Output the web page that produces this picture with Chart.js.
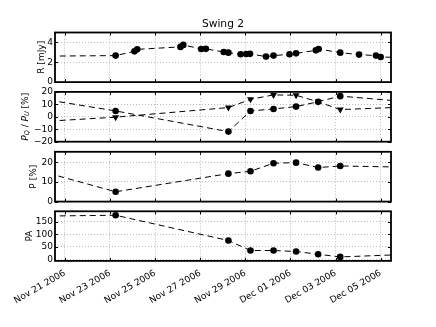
<!DOCTYPE html>
<html>
<head>
<meta charset="utf-8">
<script src="https://cdn.jsdelivr.net/npm/chart.js@4/dist/chart.umd.min.js"></script>
<style>
  body { margin: 0; background: #fff; }
  #wrap { position: relative; width: 436px; height: 327px; }
  #wrap canvas { position: absolute; left: 0; }
</style>
</head>
<body>
<div id="wrap">
  <canvas id="pR" width="436" height="87" style="top:0px"></canvas>
  <canvas id="pQU" width="436" height="60" style="top:87px"></canvas>
  <canvas id="pP" width="436" height="59" style="top:147px"></canvas>
  <canvas id="pPA" width="436" height="121" style="top:206px"></canvas>
</div>
<script>
// x axis (dates)
const xStart = '2006-11-20T13:30Z';
const xEnd = '2006-12-05T11:00Z';
const xTickDates = ['2006-11-21T00:00Z', '2006-11-23T00:00Z', '2006-11-25T00:00Z', '2006-11-27T00:00Z',
                    '2006-11-29T00:00Z', '2006-12-01T00:00Z', '2006-12-03T00:00Z', '2006-12-05T00:00Z'];
const xTickLabels = ['Nov 21 2006', 'Nov 23 2006', 'Nov 25 2006', 'Nov 27 2006',
                     'Nov 29 2006', 'Dec 01 2006', 'Dec 03 2006', 'Dec 05 2006'];

// flux density
const rDates = ['2006-11-19T00:00Z', '2006-11-23T06:00Z', '2006-11-24T02:00Z', '2006-11-24T05:00Z',
                '2006-11-26T03:00Z', '2006-11-26T06:00Z', '2006-11-27T01:00Z', '2006-11-27T06:00Z',
                '2006-11-28T01:00Z', '2006-11-28T06:00Z', '2006-11-28T19:00Z', '2006-11-29T01:00Z',
                '2006-11-29T05:00Z', '2006-11-29T22:00Z', '2006-11-30T06:00Z', '2006-11-30T23:00Z',
                '2006-12-01T06:00Z', '2006-12-02T03:00Z', '2006-12-02T06:00Z', '2006-12-03T05:00Z',
                '2006-12-04T01:00Z', '2006-12-04T19:00Z', '2006-12-05T00:00Z', '2006-12-06T12:00Z'];
const rValues = [2.6, 2.67, 3.1, 3.3, 3.55, 3.75, 3.33, 3.35, 3.03, 2.97, 2.8, 2.83,
                 2.85, 2.57, 2.67, 2.8, 2.9, 3.2, 3.33, 2.97, 2.77, 2.67, 2.53, 2.45];

// polarization
const polDates = ['2006-11-19T00:00Z', '2006-11-23T06:00Z', '2006-11-28T06:00Z', '2006-11-29T05:30Z',
                  '2006-11-30T06:00Z', '2006-12-01T06:00Z', '2006-12-02T05:30Z', '2006-12-03T05:00Z',
                  '2006-12-06T12:00Z'];
const pqValues = [17.2, 4.7, -11.9, 4.7, 6.3, 8.2, 12.1, 16.6, 11.6];
const puValues = [-4.9, -0.3, 7.4, 14.0, 17.6, 17.3, 12.0, 5.8, 8.1];
const pValues = [18.4, 5.0, 14.2, 15.4, 19.5, 19.8, 17.3, 18.1, 17.4];
const paValues = [172.4, 176.7, 75.8, 35.9, 36.0, 32.0, 21.0, 10.4, 21.5];

const rTicks = [0, 2, 4];
const quTicks = [-20, -10, 0, 10, 20];
const pTicks = [0, 10, 20];
const paTicks = [0, 50, 100, 150];

Chart.defaults.font.family = 'DejaVu Sans';
Chart.defaults.font.size = 9;
Chart.defaults.color = '#000';

const base = Date.parse('2006-11-21T00:00Z');
function toDay(s) { return (Date.parse(s) - base) / 86400000; }
const xTicks = xTickDates.map(toDay);

function series(dates, vals, tri) {
  return {
    data: dates.map((d, i) => ({ x: toDay(d), y: vals[i] })),
    borderColor: '#000',
    borderWidth: 1,
    borderDash: [6, 4],
    backgroundColor: '#000',
    pointBackgroundColor: '#000',
    pointBorderColor: '#000',
    pointBorderWidth: 0,
    pointStyle: tri ? 'triangle' : 'circle',
    pointRotation: tri ? 180 : 0,
    pointRadius: tri ? 4 : 3.3,
    tension: 0,
    fill: false,
    clip: 0
  };
}

// frame, inward tick marks and extra text
function extras(cfg) {
  return {
    id: 'extras',
    afterDraw(chart) {
      const ctx = chart.ctx, a = chart.chartArea;
      const xs = chart.scales.x, ys = chart.scales.y;
      ctx.save();
      ctx.strokeStyle = '#000';
      ctx.lineWidth = 1;
      xTicks.forEach(v => {
        const px = Math.round(xs.getPixelForValue(v)) + 0.5;
        ctx.beginPath();
        ctx.moveTo(px, a.bottom); ctx.lineTo(px, a.bottom - 3);
        ctx.moveTo(px, a.top); ctx.lineTo(px, a.top + 3);
        ctx.stroke();
      });
      cfg.yTicks.forEach(v => {
        const py = Math.round(ys.getPixelForValue(v)) + 0.5;
        ctx.beginPath();
        ctx.moveTo(a.left, py); ctx.lineTo(a.left + 3, py);
        ctx.moveTo(a.right, py); ctx.lineTo(a.right - 3, py);
        ctx.stroke();
      });
      ctx.lineWidth = 1.8;
      ctx.strokeRect(a.left, a.top, a.right - a.left, a.bottom - a.top);

      ctx.fillStyle = '#000';
      if (cfg.title) {
        ctx.font = '10.7px "DejaVu Sans"';
        ctx.textAlign = 'center';
        ctx.textBaseline = 'bottom';
        ctx.fillText(cfg.title, (a.left + a.right) / 2, a.top - 3);
      }
      if (cfg.mathLabel) {
        const parts = [['P', 'italic 9px "DejaVu Sans"', 0], ['Q', 'italic 6.5px "DejaVu Sans"', 2],
                       [' / ', '9px "DejaVu Sans"', 0], ['P', 'italic 9px "DejaVu Sans"', 0],
                       ['U', 'italic 6.5px "DejaVu Sans"', 2], [' [%]', '9px "DejaVu Sans"', 0]];
        ctx.translate(cfg.mathLabel, (a.top + a.bottom) / 2);
        ctx.rotate(-Math.PI / 2);
        ctx.textAlign = 'left';
        ctx.textBaseline = 'middle';
        let w = 0;
        parts.forEach(p => { ctx.font = p[1]; w += ctx.measureText(p[0]).width; });
        let x = -w / 2;
        parts.forEach(p => {
          ctx.font = p[1];
          ctx.fillText(p[0], x, p[2] + 0.5);
          x += ctx.measureText(p[0]).width;
        });
      }
      ctx.restore();
    }
  };
}

// cfg.top / cfg.bottom are page coordinates of the plot frame
function panel(id, cfg) {
  const canvas = document.getElementById(id);
  const cTop = parseFloat(canvas.style.top);
  const cBottom = cTop + canvas.height;
  new Chart(canvas, {
    type: 'line',
    data: { datasets: cfg.datasets },
    options: {
      responsive: false,
      animation: false,
      events: [],
      layout: { padding: { left: 0, right: 45, top: cfg.top - cTop, bottom: 0 } },
      plugins: { legend: { display: false }, tooltip: { enabled: false } },
      scales: {
        x: {
          type: 'linear',
          min: toDay(xStart),
          max: toDay(xEnd),
          afterBuildTicks: s => { s.ticks = xTicks.map(v => ({ value: v })); },
          afterFit: s => {
            s.height = cBottom - cfg.bottom;
            s.paddingLeft = 0; s.paddingRight = 0;
          },
          grid: { color: '#aaaaaa', lineWidth: 0.8, drawTicks: false },
          border: { display: false, dash: [1, 2] },
          ticks: {
            display: !!cfg.showX,
            autoSkip: false,
            minRotation: 30,
            maxRotation: 30,
            padding: 7,
            callback: (v, i) => xTickLabels[i]
          }
        },
        y: {
          min: cfg.yMin,
          max: cfg.yMax,
          afterBuildTicks: s => { s.ticks = cfg.yTicks.map(v => ({ value: v })); },
          afterFit: s => {
            s.width = 55;
            s.paddingTop = 0; s.paddingBottom = 0;
          },
          grid: { color: '#aaaaaa', lineWidth: 0.8, drawTicks: false },
          border: { display: false, dash: [1, 2] },
          ticks: { autoSkip: false, padding: 2, callback: v => String(v).replace('-', '\u2212') },
          title: cfg.yTitle ? { display: true, text: cfg.yTitle, font: { size: 9 }, padding: { top: cfg.yTitleX - 5.4, bottom: 0 } } : { display: false }
        }
      }
    },
    plugins: [extras(cfg)]
  });
}

panel('pR', {
  top: 32.5, bottom: 82.1, yMin: 0, yMax: 5, yTicks: rTicks,
  yTitle: 'R [mJy]', yTitleX: 41.5, title: 'Swing 2',
  datasets: [series(rDates, rValues, false)]
});
panel('pQU', {
  top: 91.9, bottom: 141.7, yMin: -20, yMax: 20, yTicks: quTicks,
  mathLabel: 25,
  datasets: [series(polDates, pqValues, false), series(polDates, puValues, true)]
});
panel('pP', {
  top: 151.8, bottom: 201.6, yMin: 0, yMax: 25.3, yTicks: pTicks,
  yTitle: 'P [%]', yTitleX: 33.5,
  datasets: [series(polDates, pValues, false)]
});
panel('pPA', {
  top: 211.3, bottom: 260.9, yMin: -5.5, yMax: 192.5, yTicks: paTicks,
  yTitle: 'PA', yTitleX: 30, showX: true,
  datasets: [series(polDates, paValues, false)]
});
</script>
</body>
</html>
